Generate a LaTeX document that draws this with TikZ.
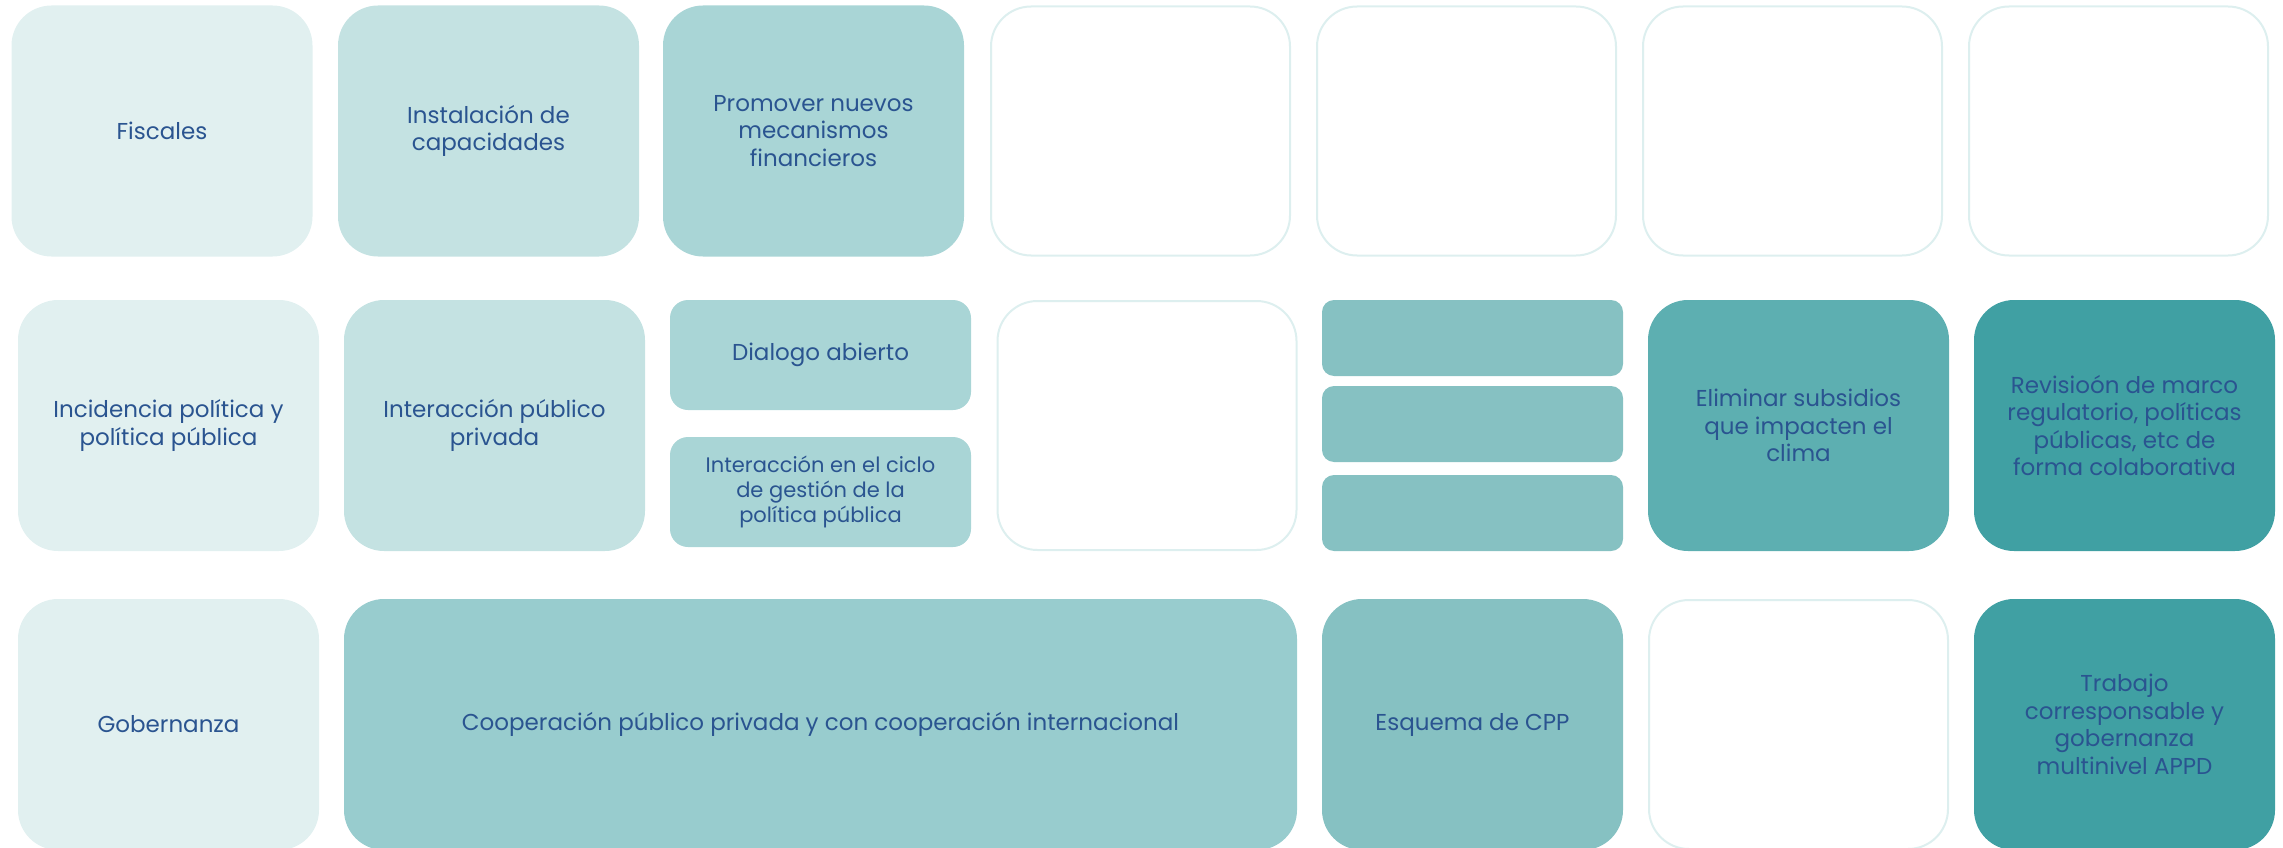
\documentclass[tikz,border=0pt]{standalone}
\usepackage{fontspec}
\setmainfont{Poppins}
\definecolor{txt}{HTML}{2A5490}
\definecolor{cA}{HTML}{E1F0F0}
\definecolor{cB}{HTML}{C4E2E2}
\definecolor{cC}{HTML}{A9D5D6}
\definecolor{cD}{HTML}{98CCCE}
\definecolor{cE}{HTML}{86C1C2}
\definecolor{cF}{HTML}{5DAFB1}
\definecolor{cG}{HTML}{40A0A3}
\definecolor{cO}{HTML}{DDEFEF}
\tikzset{
  card/.style={rectangle, rounded corners=40pt, inner sep=0pt, outer sep=0pt,
    minimum width=301pt, minimum height=251pt, text=txt, align=center,
    font=\fontsize{23}{27.5}\selectfont},
  emptycard/.style={card, fill=white, draw=cO, line width=2pt,
    minimum width=299pt, minimum height=249pt},
  midcard/.style={card, rounded corners=18pt, minimum height=110pt},
  slim/.style={card, rounded corners=12pt, minimum height=76pt, fill=cE},
}
\begin{document}
\begin{tikzpicture}[x=1pt,y=-1pt]
\useasboundingbox (0,0) rectangle (2283,848);
\clip (0,0) rectangle (2283,848);
% Row 1
\node[card, fill=cA] (r1a) at (162,131) {Fiscales};
\node[card, fill=cB] (r1b) at (488.5,131) {Instalación de\\capacidades};
\node[card, fill=cC] (r1c) at (813.5,131) {Promover nuevos\\mecanismos\\financieros};
\node[emptycard] (r1d) at (1140.5,131) {};
\node[emptycard] (r1e) at (1466.5,131) {};
\node[emptycard] (r1f) at (1792.5,131) {};
\node[emptycard] (r1g) at (2118.5,131) {};
% Row 2
\node[card, fill=cA] (r2a) at (168.5,425.5) {Incidencia política y\\política pública};
\node[card, fill=cB] (r2b) at (494.5,425.5) {Interacción público\\privada};
\node[midcard, fill=cC] (r2c1) at (820.5,355) {Dialogo abierto};
\node[midcard, fill=cC, font=\fontsize{21}{25}\selectfont] (r2c2) at (820.5,492) {Interacción en el ciclo\\de gestión de la\\política pública};
\node[emptycard] (r2d) at (1147,425.5) {};
\node[slim] (r2e1) at (1472.5,338) {};
\node[slim] (r2e2) at (1472.5,424) {};
\node[slim] (r2e3) at (1472.5,513) {};
\node[card, fill=cF] (r2f) at (1798.5,425.5) {Eliminar subsidios\\que impacten el\\clima};
\node[card, fill=cG] (r2g) at (2124.5,425.5) {Revisioón de marco\\regulatorio, políticas\\públicas, etc de\\forma colaborativa};
% Row 3
\node[card, fill=cA] (r3a) at (168.5,724.5) {Gobernanza};
\node[card, fill=cD, minimum width=953pt] (r3b) at (820.5,724.5) {Cooperación público privada y con cooperación internacional};
\node[card, fill=cE] (r3c) at (1472.5,724.5) {Esquema de CPP};
\node[emptycard] (r3d) at (1798.5,724.5) {};
\node[card, fill=cG] (r3e) at (2124.5,724.5) {Trabajo\\corresponsable y\\gobernanza\\multinivel APPD};
\end{tikzpicture}
\end{document}
